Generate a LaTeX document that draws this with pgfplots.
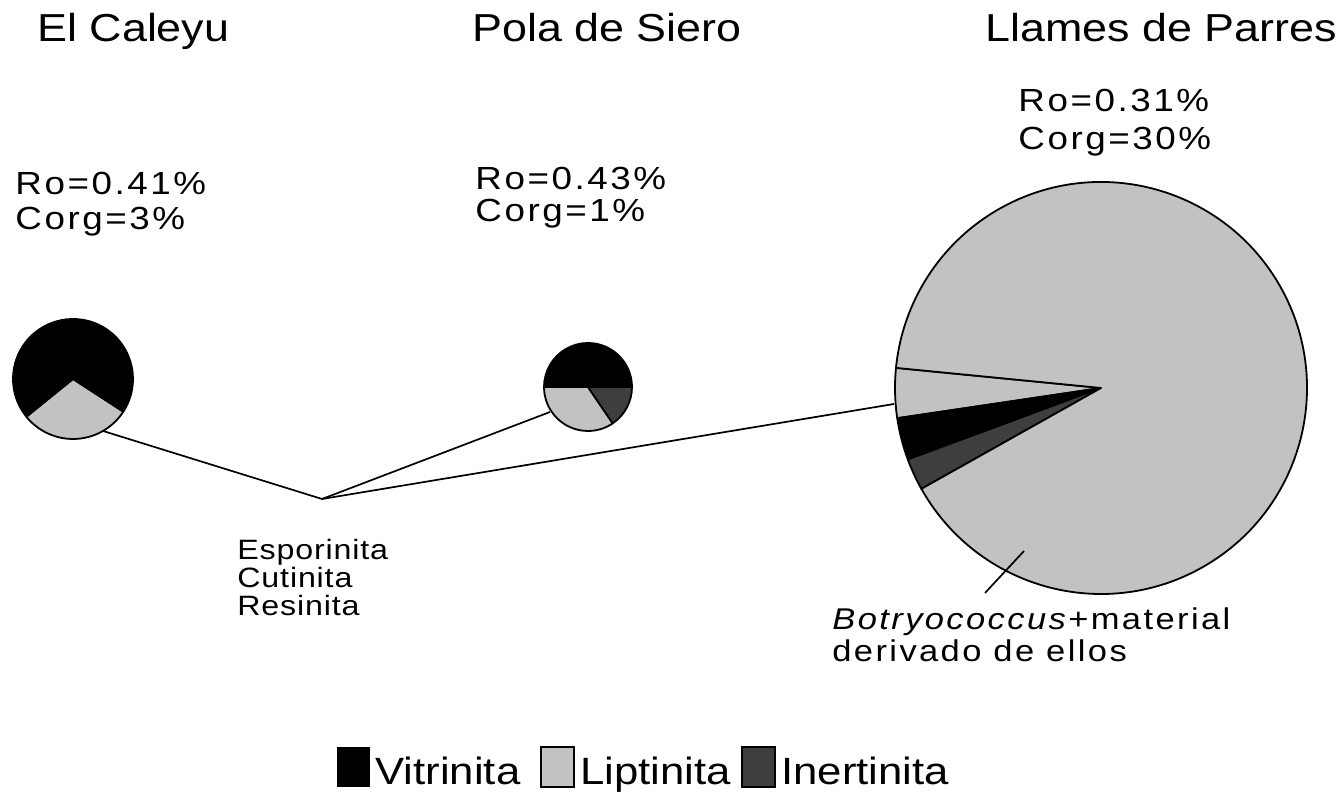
\documentclass[border=0pt]{standalone}
\usepackage{pgfplots}
\pgfplotsset{compat=1.18}
\usepackage{pgfplotstable}
\usepackage{fontspec}
\setmainfont[FakeStretch=1.15]{Liberation Sans}
\newfontfamily\smallfont[FakeStretch=1.15,LetterSpace=8]{Liberation Sans}
\newfontfamily\notefont[FakeStretch=1.15,LetterSpace=3]{Liberation Sans}
\definecolor{lipt}{RGB}{194,194,194}
\definecolor{inert}{RGB}{62,62,62}

% percentages of each maceral group, in drawing order (counter-clockwise)
\pgfplotstableread{
value color
30 lipt
70 black
}\pieA
\pgfplotstableread{
value color
50 black
34.5 lipt
15.5 inert
}\pieB
\pgfplotstableread{
value color
3.9 lipt
3.3 black
2.5 inert
90.3 lipt
}\pieC

\newcommand{\drawpie}[5]{% table, cx, cy, r, start angle
  \pgfplotstablegetrowsof{#1}\pgfmathtruncatemacro\nrows{\pgfplotsretval-1}%
  \def\curangle{#5}%
  \pgfplotsforeachungrouped \i in {0,...,\nrows}{%
    \pgfplotstablegetelem{\i}{value}\of{#1}\let\val\pgfplotsretval
    \pgfplotstablegetelem{\i}{color}\of{#1}\let\col\pgfplotsretval
    \pgfmathsetmacro\endangle{\curangle+3.6*\val}%
    \edef\tmp{\noexpand\filldraw[fill=\col, draw=black, line width=0.9pt, line join=round] (axis cs:#2,#3) -- ++(\curangle:{#4*0.5pt}) arc[start angle=\curangle, end angle=\endangle, radius={#4*0.5pt}] -- cycle;}%
    \tmp
    \let\curangle\endangle
  }%
}

\begin{document}
\begin{tikzpicture}
\begin{axis}[x=0.5pt, y=0.5pt, xmin=0, xmax=1341, ymin=0, ymax=795,
  hide axis, clip=false]
\path (axis cs:0,0) rectangle (axis cs:1341,795);
\drawpie{\pieA}{73}{416}{60}{219}
\drawpie{\pieB}{588}{408}{44}{0}
\drawpie{\pieC}{1101}{407}{206}{174.4}

% leader lines
\draw[line width=0.85pt] (axis cs:322,296) -- (axis cs:103,364);
\draw[line width=0.85pt] (axis cs:322,296) -- (axis cs:550,383);
\draw[line width=0.85pt] (axis cs:322,296) -- (axis cs:894,391);
\draw[line width=0.85pt] (axis cs:985,202) -- (axis cs:1024,244);

% titles
\tikzset{tt/.style={anchor=base west, inner sep=0pt, font=\fontsize{19.5}{23}\selectfont}}
\node[tt] at (axis cs:37,753) {El Caleyu};
\node[tt] at (axis cs:472,753) {Pola de Siero};
\node[tt] at (axis cs:985,753) {Llames de Parres};

% Ro / Corg
\tikzset{rr/.style={anchor=base west, inner sep=0pt, font=\smallfont\fontsize{16}{19}\selectfont}}
\node[rr] at (axis cs:15,600) {Ro=0.41\%};
\node[rr] at (axis cs:15,565) {Corg=3\%};
\node[rr] at (axis cs:475,605) {Ro=0.43\%};
\node[rr] at (axis cs:475,573) {Corg=1\%};
\node[rr] at (axis cs:1018,683) {Ro=0.31\%};
\node[rr] at (axis cs:1018,645) {Corg=30\%};

% annotations
\tikzset{ee/.style={anchor=base west, inner sep=0pt, font=\notefont\fontsize{14}{16}\selectfont}}
\node[ee] at (axis cs:237,235) {Esporinita};
\node[ee] at (axis cs:237,207) {Cutinita};
\node[ee] at (axis cs:237,179) {Resinita};
\tikzset{bb/.style={anchor=base west, inner sep=0pt, font=\smallfont\fontsize{15}{18}\selectfont}}
\node[bb] at (axis cs:832,165) {\textit{Botryococcus}+material};
\node[bb] at (axis cs:832,133) {derivado de ellos};

% legend
\tikzset{ll/.style={anchor=base west, inner sep=0pt, font=\fontsize{19}{23}\selectfont}}
\fill[black] (axis cs:337,8) rectangle (axis cs:370,48);
\node[ll] at (axis cs:375,10) {Vitrinita};
\filldraw[fill=lipt, draw=black, line width=0.6pt] (axis cs:541,8) rectangle (axis cs:574,48);
\node[ll] at (axis cs:580,10) {Liptinita};
\filldraw[fill=inert, draw=black, line width=0.6pt] (axis cs:742,8) rectangle (axis cs:775,48);
\node[ll] at (axis cs:781,10) {Inertinita};
\end{axis}
\end{tikzpicture}
\end{document}
